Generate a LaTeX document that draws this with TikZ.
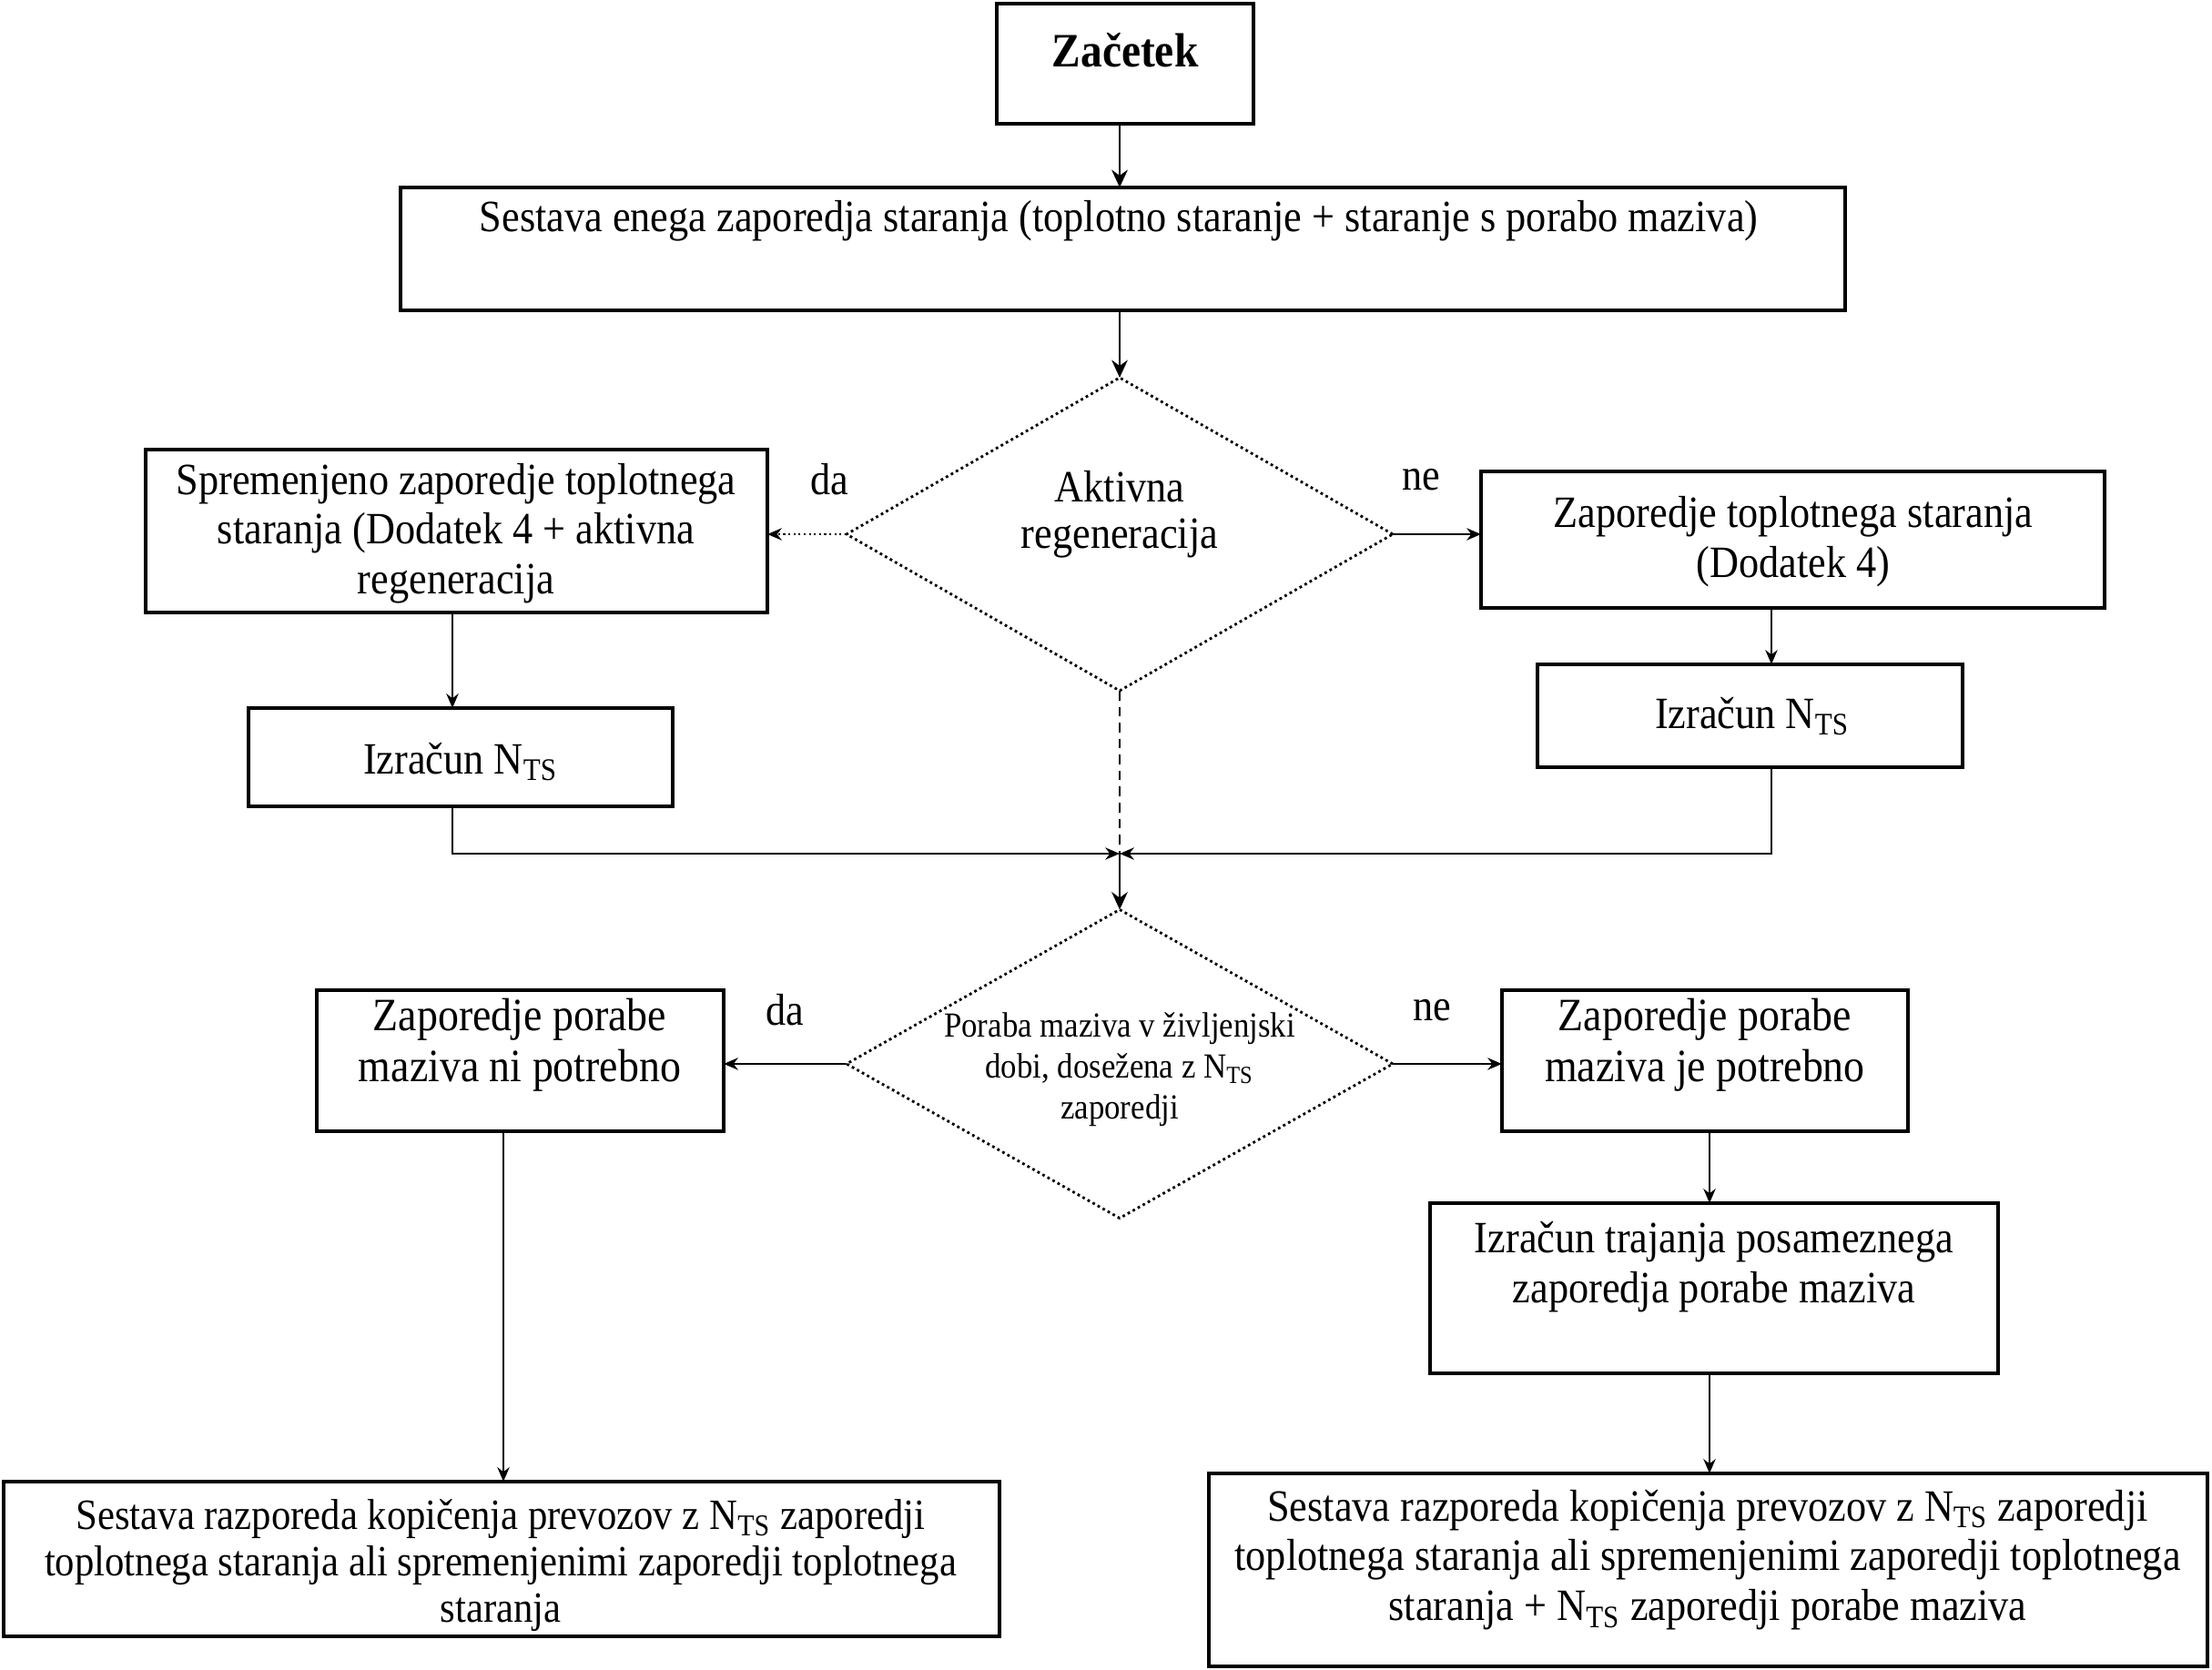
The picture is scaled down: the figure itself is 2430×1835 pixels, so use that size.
\documentclass[tikz,border=0pt]{standalone}
\usepackage{fontspec}
\setmainfont[FakeStretch=0.9]{Liberation Serif}
\usetikzlibrary{arrows.meta,shapes.geometric,fit}
\newcommand{\nts}{N\textsubscript{TS}}
\begin{document}
\begin{tikzpicture}[x=0.1mm,y=-0.1mm,
  box/.style={draw, line width=0.9pt, inner sep=0pt, outer sep=0pt},
  dia/.style={diamond, draw, densely dotted, line width=0.8pt, inner sep=0pt, outer sep=0pt},
  txt/.style={align=center, inner sep=0pt, font=\fontsize{14}{15.5}\selectfont},
  lbl/.style={inner sep=0pt, font=\fontsize{14}{15.5}\selectfont},
  conn/.style={line width=0.6pt, -{Stealth[length=4.5pt,width=3.8pt]}},
  bigconn/.style={line width=0.8pt, -{Stealth[length=5.5pt,width=5pt]}}]
\useasboundingbox (0,0) rectangle (2430,1835);

% boxes
\node[box, fit={(1095,4) (1377,136)}] (zac) {};
\node[box, fit={(440,206) (2027,341)}] (ses) {};
\node[box, fit={(160,494) (843,673)}] (sprem) {};
\node[box, fit={(1627,518) (2312,668)}] (ztop) {};
\node[box, fit={(273,778) (739,886)}] (izL) {};
\node[box, fit={(1689,730) (2156,843)}] (izR) {};
\node[box, fit={(348,1088) (795,1243)}] (ni) {};
\node[box, fit={(1650,1088) (2096,1243)}] (je) {};
\node[box, fit={(1571,1322) (2195,1509)}] (traj) {};
\node[box, fit={(4,1628) (1098,1798)}] (botL) {};
\node[box, fit={(1328,1619) (2425,1831)}] (botR) {};

% diamonds
\node[dia, minimum width=60mm, minimum height=34.4mm] (d1) at (1230,587) {};
\node[dia, minimum width=60mm, minimum height=33.9mm] (d2) at (1230,1169) {};

% texts
\node[inner sep=0pt, font=\fontsize{15}{16}\selectfont\bfseries] (tzac) at (1236,55) {Začetek};
\node[txt] (tses) at (1229,243) {Sestava enega zaporedja staranja (toplotno staranje + staranje s porabo maziva)};
\node[txt, font=\fontsize{14}{14.5}\selectfont] (td1) at (1230,565) {Aktivna\\regeneracija};
\node[txt] (tsprem) at (501,586) {Spremenjeno zaporedje toplotnega\\staranja (Dodatek 4 + aktivna\\regeneracija};
\node[txt] (tztop) at (1970,595) {Zaporedje toplotnega staranja\\(Dodatek 4)};
\node[txt] (tizL) at (506,837) {Izračun \nts};
\node[txt] (tizR) at (1925,787) {Izračun \nts};
\node[txt, font=\fontsize{11}{12.8}\selectfont] (td2) at (1230,1175) {Poraba maziva v življenjski\\dobi, dosežena z \nts\\zaporedji};
\node[txt, font=\fontsize{14.5}{16}\selectfont] (tni) at (571,1148) {Zaporedje porabe\\maziva ni potrebno};
\node[txt, font=\fontsize{14.5}{16}\selectfont] (tje) at (1873,1148) {Zaporedje porabe\\maziva je potrebno};
\node[txt] (ttraj) at (1883,1392) {Izračun trajanja posameznega\\zaporedja porabe maziva};
\node[txt, font=\fontsize{13.5}{14.6}\selectfont] (tbotL) at (550,1720) {Sestava razporeda kopičenja prevozov z \nts{} zaporedji\\toplotnega staranja ali spremenjenimi zaporedji toplotnega\\staranja};
\node[txt, font=\fontsize{14}{15.6}\selectfont] (tbotR) at (1876,1714) {Sestava razporeda kopičenja prevozov z \nts{} zaporedji\\toplotnega staranja ali spremenjenimi zaporedji toplotnega\\staranja + \nts{} zaporedji porabe maziva};

% labels
\node[lbl] (da1) at (911,527) {da};
\node[lbl] (ne1) at (1561,527) {ne};
\node[lbl] (da2) at (862,1110) {da};
\node[lbl] (ne2) at (1573,1110) {ne};

% helper coordinates
\coordinate (cx) at (1230,0);
\coordinate (lx) at (497,0);
\coordinate (rx) at (1946,0);
\coordinate (bx) at (553,0);
\coordinate (jx) at (1878,0);
\coordinate (m) at (1230,938);

% connectors
\draw[bigconn] (zac.south -| cx) -- (ses.north -| cx);
\draw[bigconn] (ses.south -| cx) -- (d1.north);
\draw[conn, densely dotted] (d1.west) -- (d1.west -| sprem.east);
\draw[conn] (d1.east) -- (d1.east -| ztop.west);
\draw[conn] (sprem.south -| lx) -- (izL.north -| lx);
\draw[conn] (ztop.south -| rx) -- (izR.north -| rx);
\draw[conn] (izL.south -| lx) |- (m);
\draw[conn] (izR.south -| rx) |- (m);
\draw[line width=0.6pt, densely dashed] (d1.south) -- (m);
\draw[bigconn] (m) -- (d2.north);
\draw[conn] (d2.west) -- (d2.west -| ni.east);
\draw[conn] (d2.east) -- (d2.east -| je.west);
\draw[conn] (ni.south -| bx) -- (botL.north -| bx);
\draw[conn] (je.south -| jx) -- (traj.north -| jx);
\draw[conn] (traj.south -| jx) -- (botR.north -| jx);
\end{tikzpicture}
\end{document}
